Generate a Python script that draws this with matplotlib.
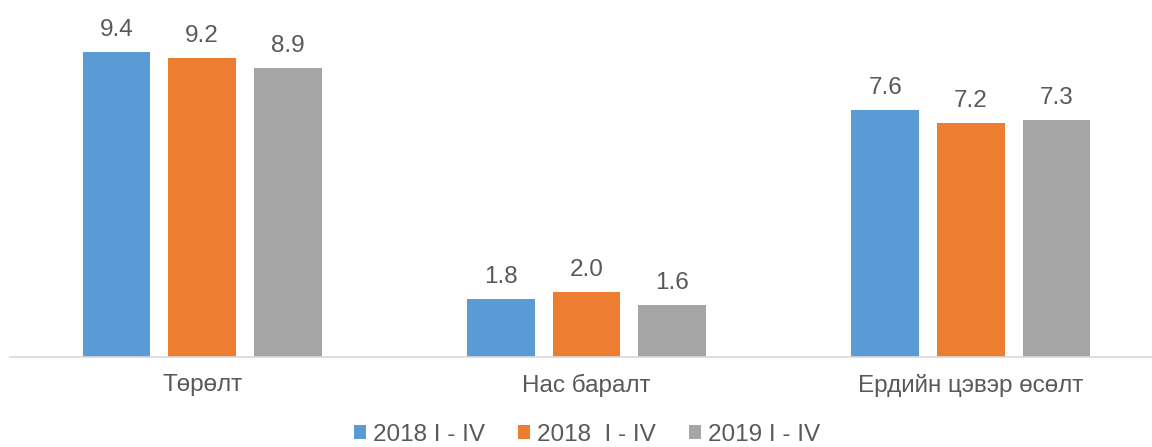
import matplotlib.pyplot as plt
import numpy as np

plt.rcParams['font.family'] = ['Liberation Sans', 'DejaVu Sans']

categories = ['Төрөлт', 'Нас баралт', 'Ердийн цэвэр өсөлт']
series_names = ['2018 I - IV', '2018  I - IV', '2019 I - IV']
values = [
    [9.4, 1.8, 7.6],
    [9.2, 2.0, 7.2],
    [8.9, 1.6, 7.3],
]
colors = ['#5B9BD5', '#ED7D31', '#A5A5A5']
text_color = '#595959'
fs = 17.5

W, H = 1152, 447
fig = plt.figure(figsize=(W / 100, H / 100), dpi=100)
ax = fig.add_axes([10 / W, 90 / H, 1153 / W, 324.5 / H])

x = np.arange(len(categories))
width = 0.176
step = 0.2225
for i, (name, vals) in enumerate(zip(series_names, values)):
    pos = x + (i - 1) * step
    bars = ax.bar(pos, vals, width, color=colors[i], label=name)
    for b, v in zip(bars, vals):
        ax.annotate(f'{v:.1f}', (b.get_x() + b.get_width() / 2, v),
                    xytext=(0, 11.5), textcoords='offset points',
                    ha='center', va='baseline', fontsize=fs, color=text_color)

ax.set_xlim(-0.5, 2.5)
ax.set_ylim(0, 10)
ax.set_yticks([])
ax.set_xticks(x)
ax.set_xticklabels(categories, fontsize=fs, color=text_color)
ax.tick_params(axis='x', length=0, pad=12)
for s in ['top', 'right', 'left']:
    ax.spines[s].set_visible(False)
ax.spines['bottom'].set_color('#D9D9D9')
ax.spines['bottom'].set_linewidth(1.2)

leg = fig.legend(loc='center', bbox_to_anchor=(0.5 + 11 / W, 12 / H), ncol=3,
                 frameon=False, fontsize=fs, handlelength=0.5,
                 handleheight=0.5, handletextpad=0.3, columnspacing=1.35)
for t in leg.get_texts():
    t.set_color(text_color)

fig.savefig('out.png', dpi=100)
